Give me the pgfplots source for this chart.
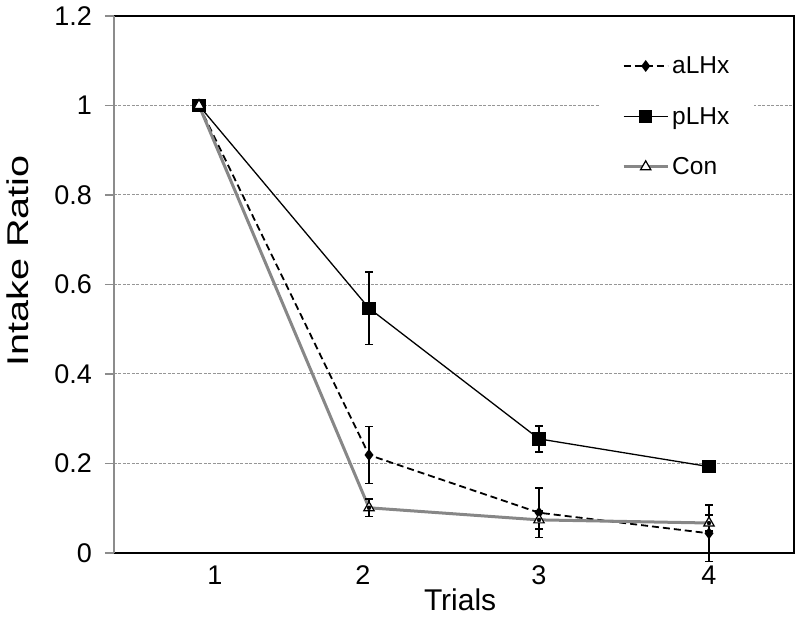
\documentclass[border=0pt]{standalone}
\usepackage{pgfplots}
\pgfplotsset{compat=1.18}
\usepackage{fontspec}
\setmainfont{Liberation Sans}
\definecolor{axgray}{RGB}{140,140,140}
\definecolor{gridgray}{RGB}{150,150,150}
\definecolor{congray}{RGB}{135,135,135}
\begin{document}
\begin{tikzpicture}
\begin{axis}[
  name=ax,
  scale only axis, width=680pt, height=537pt,
  xmin=0.5, xmax=4.5, ymin=0, ymax=1.2,
  xtick={1,2,3,4}, ytick={0,0.2,0.4,0.6,0.8,1,1.2},
  xticklabels={\hspace*{32pt}1,\hspace*{-12pt}2,3,4},
  axis line style={draw=none},
  ymajorgrids, grid style={gridgray, dash pattern=on 3pt off 1.5pt, line width=1pt},
  xtick style={draw=none},
  ytick style={axgray, line width=1.2pt},
  ytick pos=left, xtick pos=bottom,
  tick align=outside, major tick length=9pt,
  tick label style={font=\fontsize{27}{30}\selectfont},
  yticklabel style={anchor=east, inner xsep=0pt, xshift=-13pt},
  /pgf/number format/assume math mode=true,
  xlabel={Trials}, ylabel={\scalebox{1.32}[1]{Intake Ratio}},
  label style={font=\fontsize{30}{34}\selectfont},
  xlabel style={at={(rel axis cs:0.509,-0.0875)}, anchor=center},
  ylabel style={at={(rel axis cs:-0.142,0.544)}, anchor=center},
  clip=false,
  legend style={at={(rel axis cs:0.7147,0.943)}, anchor=north west, draw=none, fill=white,
    font=\fontsize{24.5}{27}\selectfont, row sep=28pt, inner xsep=22pt, inner ysep=8pt,
    nodes={inner xsep=3pt}},
  legend cell align=left,
  legend image code/.code={\draw[mark repeat=2,mark phase=2] plot coordinates {(0pt,0pt)(22pt,0pt)(44pt,0pt)};},
]
\addplot[black, dash pattern=on 7pt off 4pt, line width=1.8pt, mark=diamond*, mark size=4.5pt, mark options={solid, fill=black}]
  coordinates {(1,1) (2,0.219) (3,0.090) (4,0.044)};
\addlegendentry{aLHx}
\addplot[black, solid, line width=1.3pt, mark=square*, mark size=6pt, mark options={solid, fill=black}]
  coordinates {(1,1) (2,0.547) (3,0.255) (4,0.193)};
\addlegendentry{pLHx}
\addplot[congray, solid, line width=3pt, mark=triangle*, mark size=6pt, mark options={solid, fill=white, draw=black, line width=1.2pt}]
  coordinates {(1,1) (2,0.101) (3,0.074) (4,0.067)};
\addlegendentry{Con}
% error bars
\addplot[forget plot, only marks, mark=none,
  error bars/.cd, y dir=both, y explicit,
  error bar style={black, solid, line width=1.5pt},
  error mark options={rotate=90, mark size=4pt, black, line width=1.5pt}]
  coordinates {(2,0.219) +- (0,0.064) (3,0.090) +- (0,0.055) (4,0.044) +- (0,0.063)};
\addplot[forget plot, only marks, mark=none,
  error bars/.cd, y dir=both, y explicit,
  error bar style={black, solid, line width=1.5pt},
  error mark options={rotate=90, mark size=4pt, black, line width=1.5pt}]
  coordinates {(2,0.547) +- (0,0.081) (3,0.255) +- (0,0.029) (4,0.193) +- (0,0.004)};
\addplot[forget plot, only marks, mark=none,
  error bars/.cd, y dir=both, y explicit,
  error bar style={black, solid, line width=1.5pt},
  error mark options={rotate=90, mark size=4pt, black, line width=1.5pt}]
  coordinates {(2,0.101) +- (0,0.020) (3,0.074) +- (0,0.020) (4,0.067) +- (0,0.018)};
\draw[black, line width=1.2pt] (rel axis cs:0,0) -- (rel axis cs:1,0) -- (rel axis cs:1,1) -- (rel axis cs:0,1);
\draw[axgray, line width=1.4pt] (rel axis cs:0,0) -- (rel axis cs:0,1);
\end{axis}
\path ([shift={(-114pt,-67pt)}]ax.south west) rectangle ([shift={(4pt,16pt)}]ax.north east);
\end{tikzpicture}
\end{document}
